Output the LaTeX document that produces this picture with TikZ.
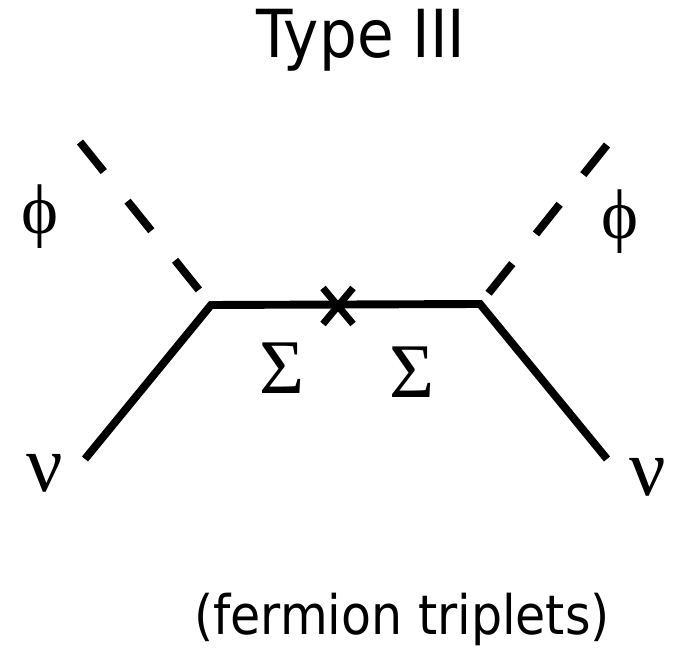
\documentclass[tikz,border=0pt]{standalone}
\usepackage{fontspec}
\newfontfamily\titlefont[FakeStretch=0.9]{DejaVu Sans}
\newfontfamily\greekfont{Liberation Serif}
\usepackage{tikz}
\usetikzlibrary{positioning}
\tikzset{
	fermion/.style={
			line width=4.5pt
		},
	scalar/.style={
			line width=4.5pt,
			dash pattern=on 21.6pt off 21.6pt
		},
	masscross/.style={
			line width=4pt
		},
	greeklabel/.style={
			inner sep=0pt,
			font=\greekfont\fontsize{40}{42}\selectfont
		},
	textlabel/.style={
			inner sep=0pt,
			anchor=base
		}
}

\begin{document}
\begin{tikzpicture}[x=0.02cm, y=-0.02cm]
\useasboundingbox (0,0) rectangle (674,648);

\node[textlabel, font=\titlefont\fontsize{37.7}{40}\selectfont] (title) at (361,58) {Type III};

\coordinate (vL) at (211,305);
\coordinate (vR) at (480,304);
\coordinate (phiL) at (80,142);
\coordinate (phiR) at (607,145);
\coordinate (nuL) at (85,459);
\coordinate (nuR) at (607,459);
\coordinate (mass) at (338,306);

\draw[scalar] (phiL) -- (vL);
\draw[scalar] (phiR) -- (vR);
\draw[fermion] (nuL) -- (vL) -- (vR) -- (nuR);
\draw[masscross] (mass) ++(-15,-18) -- ++(30,36);
\draw[masscross] (mass) ++(-15,18) -- ++(30,-36);

\node[greeklabel] (lphiL) at (40,217) {ϕ};
\node[greeklabel] (lphiR) at (620,222) {ϕ};
\node[greeklabel, font=\greekfont\fontsize{44}{46}\selectfont] (lsigL) at (282,368) {Σ};
\node[greeklabel, font=\greekfont\fontsize{44}{46}\selectfont] (lsigR) at (412,372) {Σ};
\node[greeklabel, font=\greekfont\fontsize{46}{48}\selectfont] (lnuL) at (45,473) {ν};
\node[greeklabel, font=\greekfont\fontsize{46}{48}\selectfont] (lnuR) at (648,477) {ν};

\node[textlabel, font=\titlefont\fontsize{31}{33}\selectfont] (note) at (402,635) {(fermion triplets)};
\end{tikzpicture}
\end{document}
